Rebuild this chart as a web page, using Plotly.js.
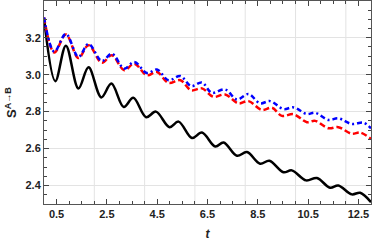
<!DOCTYPE html>
<html><head><meta charset="utf-8">
<script src="https://cdn.plot.ly/plotly-3.0.1.min.js"></script>
<style>html,body{margin:0;padding:0;background:#fff;}#c{width:374px;height:245px;}</style>
</head><body><div id="c"></div>
<script>
// black (solid) series
var tBlack = [0, 0.45, 0.87, 1.37, 1.77, 2.28, 2.68, 3.17, 3.55, 4.06, 4.45, 4.99, 5.35, 5.88, 6.28, 6.81, 7.14, 7.67, 8.07, 8.59, 8.96, 9.52, 9.85, 10.42, 10.85, 11.37, 11.7, 12.24, 12.57, 13];
var sBlack = [3.307, 2.965, 3.157, 2.925, 3.04, 2.877, 2.952, 2.825, 2.875, 2.77, 2.80, 2.716, 2.746, 2.657, 2.687, 2.611, 2.633, 2.561, 2.581, 2.518, 2.534, 2.472, 2.482, 2.428, 2.441, 2.388, 2.40, 2.352, 2.361, 2.31];
// red (dashed) series
var tRed = [0, 0.41, 0.87, 1.37, 1.77, 2.30, 2.70, 3.19, 3.59, 4.09, 4.49, 4.95, 5.42, 5.85, 6.28, 6.74, 7.2, 7.73, 8.13, 8.66, 9.06, 9.46, 9.92, 10.45, 10.78, 11.31, 11.7, 12.24, 12.57, 13];
var sRed = [3.31, 3.12, 3.218, 3.09, 3.16, 3.065, 3.105, 3.024, 3.06, 2.997, 3.015, 2.956, 2.97, 2.916, 2.926, 2.88, 2.893, 2.845, 2.857, 2.809, 2.821, 2.777, 2.786, 2.743, 2.75, 2.71, 2.716, 2.68, 2.687, 2.653];
// blue (dash-dot) series
var tBlue = [0, 0.41, 0.87, 1.37, 1.77, 2.30, 2.70, 3.19, 3.59, 4.09, 4.49, 4.95, 5.42, 5.85, 6.28, 6.67, 7.2, 7.67, 8.13, 8.59, 8.99, 9.52, 9.92, 10.45, 10.78, 11.31, 11.7, 12.24, 12.7, 13];
var sBlue = [3.31, 3.125, 3.221, 3.096, 3.167, 3.074, 3.114, 3.033, 3.069, 3.009, 3.028, 2.97, 2.993, 2.938, 2.958, 2.902, 2.92, 2.866, 2.895, 2.845, 2.857, 2.814, 2.823, 2.787, 2.794, 2.755, 2.764, 2.733, 2.74, 2.71];
// vertical grid positions
var xGrid = [2, 4, 6, 8, 10, 12];

var tickFont = {family: 'Liberation Sans, Arial, sans-serif', size: 11, color: '#222', weight: 'bold'};

var traces = [
  {x: tBlack, y: sBlack, mode: 'lines', line: {color: '#000', width: 2.5, shape: 'spline', smoothing: 1}},
  {x: tRed, y: sRed, mode: 'lines', line: {color: '#ff0000', width: 2.5, dash: '6px,3px', shape: 'spline', smoothing: 1}},
  {x: tBlue, y: sBlue, mode: 'lines', line: {color: '#0000ff', width: 2.5, dash: '5px,3px,2px,3px', shape: 'spline', smoothing: 1}}
];

var shapes = xGrid.map(function(g){
  return {type: 'line', xref: 'x', yref: 'paper', x0: g, x1: g, y0: 0, y1: 1, layer: 'below', line: {color: '#e3e3e3', width: 1}};
});

var layout = {
  width: 374, height: 245,
  margin: {l: 44, r: 3, t: 1, b: 41},
  paper_bgcolor: '#fff', plot_bgcolor: '#fff',
  showlegend: false,
  shapes: shapes,
  xaxis: {
    range: [0, 13], tick0: 0.5, dtick: 2, ticks: 'inside', ticklen: 5, tickcolor: '#444', tickwidth: 1,
    showgrid: false, zeroline: false, showline: true, linecolor: '#555', linewidth: 1, mirror: 'ticks',
    minor: {dtick: 0.5, tick0: 0, ticks: 'inside', ticklen: 3, tickcolor: '#444', showgrid: false},
    tickfont: tickFont,
    title: {text: '<i>t</i>', font: {family: 'Liberation Sans, Arial, sans-serif', size: 12, color: '#222', weight: 'bold'}, standoff: 10}
  },
  yaxis: {
    range: [2.3, 3.399], tick0: 2.4, dtick: 0.2, ticks: 'inside', ticklen: 5, tickcolor: '#444', tickwidth: 1,
    showgrid: true, gridcolor: '#e3e3e3', gridwidth: 1, zeroline: false, showline: true, linecolor: '#555', linewidth: 1, mirror: 'ticks',
    minor: {dtick: 0.05, ticks: 'inside', ticklen: 3, tickcolor: '#444', showgrid: false},
    tickfont: tickFont, tickformat: '.1f',
    title: {text: 'S<sup>A→B</sup>', font: {family: 'Liberation Sans, Arial, sans-serif', size: 13, color: '#222', weight: 'bold'}, standoff: 5}
  }
};

Plotly.newPlot('c', traces, layout, {displayModeBar: false, staticPlot: true});
</script>
</body></html>
